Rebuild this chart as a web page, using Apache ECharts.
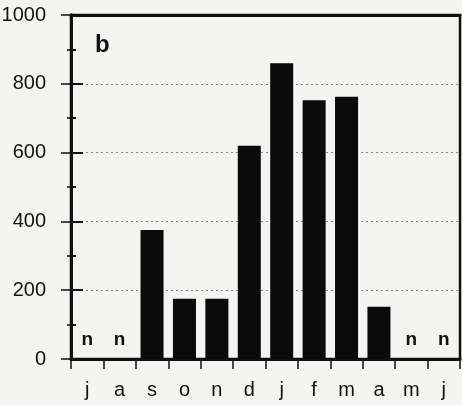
<!DOCTYPE html>
<html>
<head>
<meta charset="utf-8">
<script src="https://cdn.jsdelivr.net/npm/echarts@6/dist/echarts.min.js"></script>
<style>
  html, body { margin: 0; padding: 0; background: #f4f4f2; }
  #chart { width: 462px; height: 405px; }
</style>
</head>
<body>
<div id="chart"></div>
<script>
// Monthly values, July to June; null marks months with no data ("n")
const months = ['j', 'a', 's', 'o', 'n', 'd', 'j', 'f', 'm', 'a', 'm', 'j'];
const values = [null, null, 375, 175, 175, 620, 860, 752, 762, 152, null, null];
const yTicks = [0, 200, 400, 600, 800, 1000];
const panelLabel = 'b';
const missingLabel = 'n';

const ink = '#111';
const fontFamily = '"Liberation Sans", Arial, Helvetica, sans-serif';

const gridBox = { left: 71, top: 15, right: 2, bottom: 46, containLabel: false, outerBoundsMode: 'none' };

const barData = values.map(v => v === null
  ? { value: 0, label: { show: true, formatter: missingLabel } }
  : { value: v });

const chart = echarts.init(document.getElementById('chart'), null, { renderer: 'canvas' });

const yCommon = {
  type: 'value',
  min: yTicks[0],
  max: yTicks[yTicks.length - 1],
  interval: yTicks[1] - yTicks[0],
};

chart.setOption({
  backgroundColor: '#f4f4f2',
  animation: false,
  grid: [
    Object.assign({ show: true, borderColor: ink, borderWidth: 2.5, backgroundColor: 'transparent' }, gridBox),
    // overlay grid whose y axis carries the ticks pointing into the plot
    Object.assign({ show: false }, gridBox)
  ],
  graphic: [{
    type: 'text', left: 95, top: 33,
    style: { text: panelLabel, font: 'bold 24px ' + fontFamily, fill: ink }
  }],
  xAxis: [{
    gridIndex: 0,
    type: 'category',
    data: months,
    boundaryGap: true,
    axisLine: { show: true, lineStyle: { color: ink, width: 3 } },
    axisTick: { show: true, inside: false, length: 10, alignWithLabel: false, lineStyle: { color: ink, width: 1.5 } },
    axisLabel: { color: ink, fontSize: 20, fontFamily, margin: 21 },
    splitLine: { show: false }
  }, {
    gridIndex: 0,
    type: 'category',
    data: months,
    position: 'top',
    axisLine: { show: true, lineStyle: { color: ink, width: 3 } },
    axisTick: { show: false },
    axisLabel: { show: false }
  }, {
    gridIndex: 1,
    type: 'category',
    data: months,
    show: false
  }],
  yAxis: [Object.assign({}, yCommon, {
    gridIndex: 0,
    position: 'left',
    axisLine: { show: true, lineStyle: { color: ink, width: 3 } },
    axisTick: { show: true, inside: false, length: 10, lineStyle: { color: ink, width: 1.5 } },
    minorTick: { show: true, splitNumber: 2, length: 4, lineStyle: { color: ink, width: 1.5 } },
    axisLabel: { color: ink, fontSize: 20, fontFamily, margin: 25, formatter: v => String(v) },
    splitLine: { show: true, lineStyle: { color: '#888', type: [2, 3], width: 1 } },
    minorSplitLine: { show: false }
  }), Object.assign({}, yCommon, {
    gridIndex: 1,
    position: 'left',
    axisLine: { show: true, lineStyle: { color: ink, width: 3 } },
    axisTick: { show: true, inside: true, length: 12, lineStyle: { color: ink, width: 2 } },
    minorTick: { show: true, splitNumber: 2, length: 5, lineStyle: { color: ink, width: 2 } },
    axisLabel: { show: false },
    splitLine: { show: false }
  })],
  series: [{
    type: 'bar',
    xAxisIndex: 0,
    yAxisIndex: 0,
    data: barData,
    barCategoryGap: '29%',
    itemStyle: { color: '#0a0a0a' },
    label: {
      show: false,
      position: 'top',
      distance: 10,
      color: ink,
      fontSize: 19,
      fontWeight: 'bold',
      fontFamily
    }
  }, {
    // invisible twin on the overlay grid
    type: 'line',
    xAxisIndex: 2,
    yAxisIndex: 1,
    data: values,
    symbol: 'none',
    silent: true,
    lineStyle: { opacity: 0 }
  }]
});
</script>
</body>
</html>
